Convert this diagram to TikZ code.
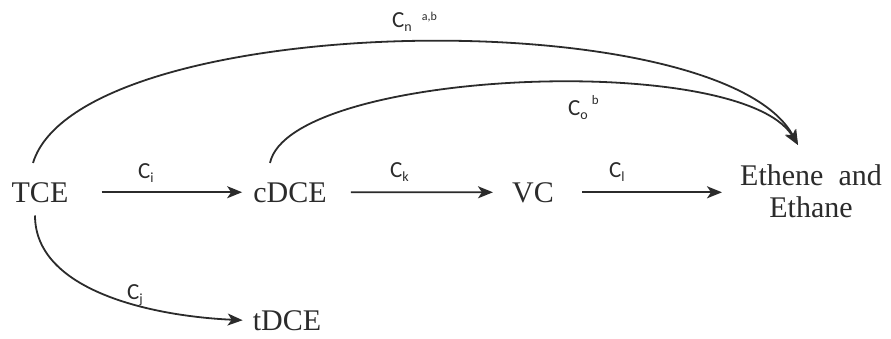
\documentclass[tikz,border=0pt]{standalone}
\usepackage{fontspec}
\setmainfont{Liberation Serif}
\newfontfamily\lblfont{Carlito}
\usetikzlibrary{arrows.meta}
\definecolor{ink}{HTML}{2B2B2B}
\newcommand{\clab}[1]{C\raisebox{-4pt}{\fontsize{14}{14}\selectfont #1}}
\tikzset{
  species/.style={inner sep=0pt, text=ink, font=\fontsize{30}{32}\selectfont},
  rate/.style={inner sep=0pt, anchor=base west, text=ink, font=\lblfont\fontsize{23}{23}\selectfont},
  arr/.style={draw=ink, line width=1.8pt, -{Stealth[length=15pt,width=12pt,inset=4pt]}}
}
\begin{document}
\begin{tikzpicture}[x=1pt,y=-1pt]
\useasboundingbox (0,0) rectangle (891,338);
% species
\node[species, anchor=base] (tce) at (40,202) {TCE};
\node[species, anchor=base] (cdce) at (290,202) {cDCE};
\node[species, anchor=base] (vc) at (533,202) {VC};
\node[species, anchor=base] (tdce) at (287,330) {tDCE};
\node[species, anchor=north, align=center] (eth) at (811,164) {Ethene\ \ and\\Ethane};
% straight arrows
\draw[arr, shorten <=33pt, shorten >=11pt] (tce.east) -- (cdce.west);
\draw[arr, shorten <=24pt, shorten >=19pt] (cdce.east) -- (vc.west);
\draw[arr, shorten <=28pt, shorten >=18pt] (vc.east) -- (vc.east -| eth.west);
% curved arrows
\draw[arr] ([shift={(-7,-19)}]tce.north) .. controls (80,10) and (720,0) .. ([shift={(-13,-19)}]eth.north);
\draw[arr] ([shift={(-20,-19)}]cdce.north) .. controls (290,70) and (740,50) .. ([shift={(-13,-19)}]eth.north);
\draw[arr] ([shift={(-5,13)}]tce.south) .. controls (35,290) and (150,316) .. ([xshift=-10pt]tdce.west);
% rate labels
\node[rate] (ci) at (138,178) {\clab{i}};
\node[rate] (ck) at (390,177) {\clab{k}};
\node[rate] (cl) at (609,177) {\clab{l}};
\node[rate] (cj) at (127,299) {\clab{j}};
\node[rate] (cn) at (392,27) {\clab{n}\hspace{10pt}\raisebox{7pt}{\fontsize{12}{12}\selectfont a,b}};
\node[rate] (co) at (568,115) {\clab{o}\hspace{4pt}\raisebox{11pt}{\fontsize{13}{13}\selectfont b}};
\end{tikzpicture}
\end{document}
